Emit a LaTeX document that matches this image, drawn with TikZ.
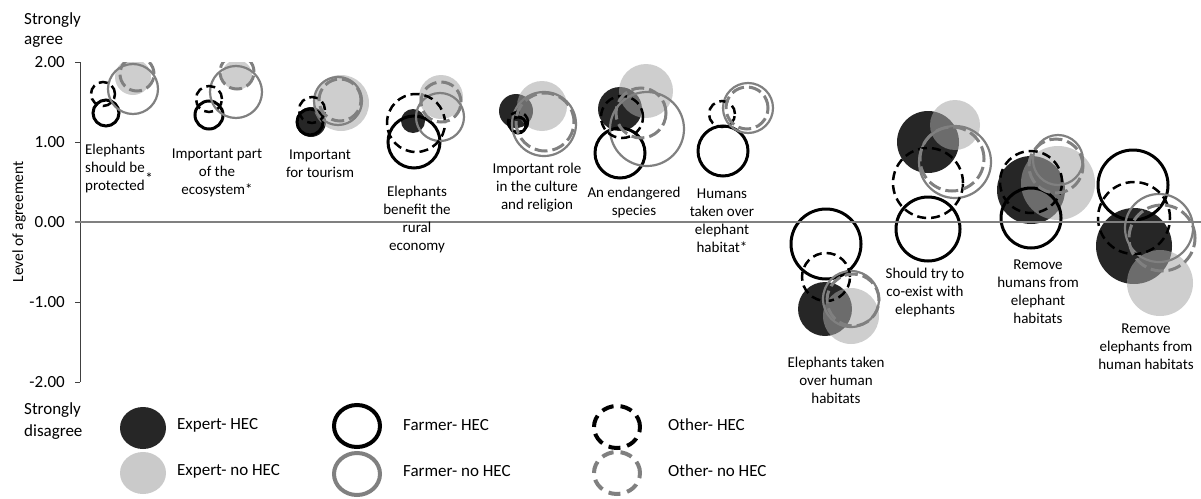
\documentclass[tikz,border=0pt]{standalone}
\usepackage{fontspec}
\setmainfont{Carlito}
\usetikzlibrary{positioning}
\definecolor{ringgray}{HTML}{808080}
\definecolor{fillgray}{HTML}{A6A6A6}
\definecolor{axisgray}{HTML}{404040}

\begin{document}
\begin{tikzpicture}[x=1pt, y=-1pt,
  expHEC/.style={fill=black, fill opacity=0.85},
  expNo/.style={fill=fillgray, fill opacity=0.55},
  farmHEC/.style={draw=black, line width=3pt},
  farmNo/.style={draw=ringgray, line width=2.2pt},
  othHEC/.style={draw=black, line width=2.5pt, dash pattern=on 9pt off 5pt},
  othNo/.style={draw=ringgray, line width=3pt, dash pattern=on 13pt off 5pt},
  catlabel/.style={font=\fontsize{15}{18}\selectfont, align=center, inner sep=0pt},
  ticklabel/.style={font=\fontsize{17}{20}\selectfont, anchor=east, inner sep=0pt},
  keytext/.style={font=\fontsize{17}{20}\selectfont, anchor=west, inner sep=0pt}]

% Canvas in pixels (y downwards), 1201 x 498
\useasboundingbox (0,0) rectangle (1201,498);

% Coordinate mapping:
% level -> 222 - level*80   (2.00 at 62, -2.00 at 382)

% Axis and ticks
\draw[axisgray, line width=0.8pt] (80,62) -- (80,382);
\foreach \v/\lab in {62/2.00, 142/1.00, 222/0.00, 302/-1.00, 382/-2.00} {
  \draw[axisgray, line width=0.8pt] (75,\v) -- (80,\v);
  \node[ticklabel] (tick\v) at (65,\v) {\lab};
}

\node[font=\fontsize{15.5}{18}\selectfont, rotate=90] (ylabel) at (19,222) {Level of agreement};
\node[font=\fontsize{17}{20}\selectfont, align=left, anchor=west, inner sep=0pt] (agree) at (24,30)
  {Strongly\\agree};
\node[font=\fontsize{17}{22}\selectfont, align=left, anchor=west, inner sep=0pt] (disagree) at (24,421)
  {Strongly\\disagree};

% Bubbles: x / y / radius, one list per group
\begin{scope}
\clip (80,62) rectangle (1201,400);

% Expert- HEC
\foreach \x/\y/\r in {311/122/15, 413/121/12, 516/111/17, 620/109/22,
  825/309/27, 928/142/31, 1031/190/34, 1134/246/38}
  \fill[expHEC] (\x,\y) circle[radius=\r pt];

% Expert- no HEC
\foreach \x/\y/\r in {133/77/18, 237/75/15, 341/103/28, 441/97/22, 542/106/25,
  646/91/27, 851/316/28, 955/125/25, 1058/183/37, 1160/283/33}
  \fill[expNo] (\x,\y) circle[radius=\r pt];

% Farmer- HEC
\foreach \x/\y/\r in {106/113/13, 209/115/14, 310/122/13, 414/142/26, 518/125/8,
  620/153/25, 723/151/25, 826/244/35, 928/229/32, 1031/218/30, 1133/185/35}
  \draw[farmHEC] (\x,\y) circle[radius=\r pt];

% Farmer- no HEC
\foreach \x/\y/\r in {133/89/25, 236/92/26, 338/101/24, 440/117/24, 544/124/32,
  647/129/37, 748/108/25, 851/299/28, 955/162/36, 1058/160/25, 1159/228/34}
  \draw[farmNo] (\x,\y) circle[radius=\r pt];

% Other- HEC
\foreach \x/\y/\r in {103/94/12, 209/99/13, 312/110/13, 416/123/29, 518/122/10,
  622/117/21, 722/114/13, 826/277/24, 928/183/35, 1031/182/31, 1134/218/36}
  \draw[othHEC] (\x,\y) circle[radius=\r pt];

% Other- no HEC
\foreach \x/\y/\r in {137/74/17, 237/72/17, 340/100/21, 441/102/20, 545/122/29,
  641/113/25, 747/108/21, 853/300/26, 952/159/32, 1056/166/27, 1162/238/33}
  \draw[othNo] (\x,\y) circle[radius=\r pt];
\end{scope}

% Zero line
\draw[ringgray, line width=1.5pt] (75,222) -- (1201,222);

% Statement labels
\node[catlabel] (protect) at (115,168) {Elephants\\should be\\protected};
\node[catlabel] (protectstar) at (149,178) {*};
\node[catlabel] (ecosys) at (217,173) {Important part\\of the\\ecosystem*};
\node[catlabel] (tourism) at (320,164) {Important\\for tourism};
\node[catlabel] (economy) at (417,219) {Elephants\\benefit the\\rural\\economy};
\node[catlabel] (culture) at (537,188) {Important role\\in the culture\\and religion};
\node[catlabel] (endanger) at (634,202) {An endangered\\species};
\node[catlabel] (humover) at (722,221) {Humans\\taken over\\elephant\\habitat*};
\node[catlabel] (eleover) at (836,380) {Elephants taken\\over human\\habitats};
\node[catlabel] (coexist) at (925,292) {Should try to\\co-exist with\\elephants};
\node[catlabel] (remhum) at (1038,292) {Remove\\humans from\\elephant\\habitats};
\node[catlabel] (remele) at (1146,347) {Remove\\elephants from\\human habitats};

% Legend
\fill[black!85] (143,428) ellipse[x radius=23pt, y radius=21pt];
\fill[fillgray!60] (143,473) ellipse[x radius=23pt, y radius=21pt];
\draw[black, line width=4pt] (357,426) ellipse[x radius=23pt, y radius=21pt];
\draw[ringgray, line width=4pt] (357,474) ellipse[x radius=23pt, y radius=21pt];
\draw[black, line width=4pt, dash pattern=on 12pt off 7pt] (617,427) ellipse[x radius=23pt, y radius=21pt];
\draw[ringgray, line width=4pt, dash pattern=on 12pt off 7pt] (617,473) ellipse[x radius=23pt, y radius=21pt];

\node[keytext] (keyexp) at (177,425) {Expert- HEC};
\node[keytext] (keyexpno) at (177,471) {Expert- no HEC};
\node[keytext] (keyfarm) at (403,425) {Farmer- HEC};
\node[keytext] (keyfarmno) at (403,471) {Farmer- no HEC};
\node[keytext] (keyoth) at (668,425) {Other- HEC};
\node[keytext] (keyothno) at (668,471) {Other- no HEC};

\end{tikzpicture}
\end{document}
